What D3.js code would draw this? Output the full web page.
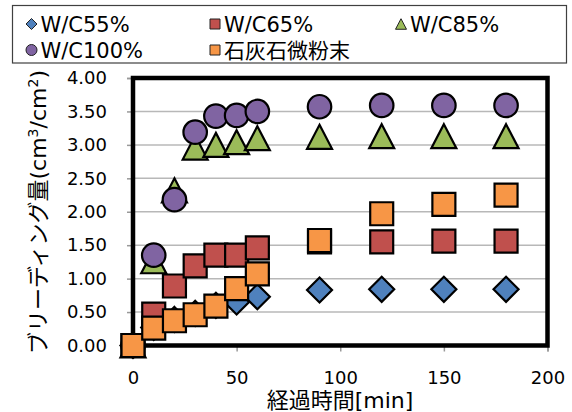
<!DOCTYPE html>
<html>
<head>
<meta charset="utf-8">
<script src="https://cdn.jsdelivr.net/npm/d3@7"></script>
<style>
  html, body { margin: 0; padding: 0; background: #fff; }
  svg { display: block; }
  text { font-family: "DejaVu Sans", "Noto Sans CJK JP", sans-serif; fill: #000; }
</style>
</head>
<body>
<svg id="chart" width="572" height="412"></svg>
<script>
// Elapsed time [min]
const times = [0, 10, 20, 30, 40, 50, 60, 90, 120, 150, 180];

// Bleeding amount (cm3/cm2) per mix
const wc55  = [0, 0.27, 0.39, 0.48, 0.60, 0.65, 0.73, 0.83, 0.84, 0.84, 0.84];
const wc65  = [0, 0.47, 0.89, 1.19, 1.35, 1.35, 1.46, 1.55, 1.55, 1.56, 1.56];
const wc85  = [0, 1.26, 2.32, 2.96, 3.00, 3.04, 3.10, 3.12, 3.13, 3.13, 3.13];
const wc100 = [0, 1.35, 2.18, 3.19, 3.43, 3.44, 3.50, 3.57, 3.59, 3.59, 3.59];
const limestone = [0, 0.26, 0.37, 0.46, 0.59, 0.85, 1.07, 1.57, 1.97, 2.11, 2.25];

const seriesNames = ["W/C55%", "W/C65%", "W/C85%", "W/C100%", "石灰石微粉末"];
const seriesValues = [wc55, wc65, wc85, wc100, limestone];
const seriesColors = ["#4F81BD", "#C0504D", "#9BBB59", "#8064A2", "#F79646"];

// Marker shapes sized by their bounding box width w (box-centred, like spreadsheet markers)
const boxDiamond = { draw(ctx, w) { const r = w / 2; ctx.moveTo(0, -r); ctx.lineTo(r, 0); ctx.lineTo(0, r); ctx.lineTo(-r, 0); ctx.closePath(); } };
const boxSquare = { draw(ctx, w) { const r = w / 2; ctx.moveTo(-r, -r); ctx.lineTo(r, -r); ctx.lineTo(r, r); ctx.lineTo(-r, r); ctx.closePath(); } };
const boxTriangle = { draw(ctx, w) { const r = w / 2, h = w * 0.48; ctx.moveTo(0, -h); ctx.lineTo(r, h); ctx.lineTo(-r, h); ctx.closePath(); } };
const boxCircle = { draw(ctx, w) { const r = w / 2; ctx.moveTo(r, 0); ctx.arc(0, 0, r, 0, 2 * Math.PI); } };
const seriesSymbols = [boxDiamond, boxSquare, boxTriangle, boxCircle, boxSquare];

const yTicks = [0, 0.5, 1, 1.5, 2, 2.5, 3, 3.5, 4];
const xTicks = [0, 50, 100, 150, 200];

const svg = d3.select("#chart");
const plot = { left: 133, right: 547.5, top: 78, bottom: 345.5 };

const x = d3.scaleLinear().domain([0, 200]).range([plot.left, plot.right]);
const y = d3.scaleLinear().domain([0, 4]).range([plot.bottom, plot.top]);

// gridlines
svg.append("g")
  .selectAll("line")
  .data(yTicks.slice(1))
  .join("line")
  .attr("x1", plot.left).attr("x2", plot.right)
  .attr("y1", d => y(d)).attr("y2", d => y(d))
  .attr("stroke", "#b8b8b8").attr("stroke-width", 1.5);

// y axis ticks and labels
const yAxis = svg.append("g")
  .attr("transform", `translate(${plot.left},0)`)
  .call(d3.axisLeft(y).tickValues(yTicks).tickFormat(d3.format(".2f")).tickSize(6).tickPadding(20));
yAxis.select(".domain").attr("stroke", "#999").attr("stroke-width", 1.5);
yAxis.selectAll(".tick line").attr("stroke", "#999").attr("stroke-width", 1.5);
yAxis.selectAll(".tick text")
  .attr("font-size", 18)
  .attr("font-family", "DejaVu Sans, sans-serif")
  .attr("fill", "#000");

// x axis ticks and labels
const xAxis = svg.append("g")
  .attr("transform", `translate(0,${plot.bottom})`)
  .call(d3.axisBottom(x).tickValues(xTicks).tickFormat(d3.format("d")).tickSize(6).tickPadding(20));
xAxis.select(".domain").attr("stroke", "#999").attr("stroke-width", 1.5);
xAxis.selectAll(".tick line").attr("stroke", "#999").attr("stroke-width", 1.5);
xAxis.selectAll(".tick text")
  .attr("font-size", 18)
  .attr("font-family", "DejaVu Sans, sans-serif")
  .attr("fill", "#000");

// heavy plot frame
svg.append("rect")
  .attr("x", plot.left).attr("y", plot.top)
  .attr("width", plot.right - plot.left).attr("height", plot.bottom - plot.top)
  .attr("fill", "none").attr("stroke", "#000").attr("stroke-width", 4.5);

// markers, drawn series by series so later series sit on top
const sizes = [25, 23, 25, 23.5, 23];
seriesValues.forEach((vals, si) => {
  svg.append("g")
    .selectAll("path")
    .data(times.map((t, i) => ({ t, v: vals[i] })))
    .join("path")
    .attr("transform", d => `translate(${x(d.t)},${y(d.v)})`)
    .attr("d", d3.symbol().type(seriesSymbols[si]).size(sizes[si]))
    .attr("fill", seriesColors[si])
    .attr("stroke", "#000")
    .attr("stroke-width", 2.2)
    .attr("stroke-linejoin", "miter");
});

// axis titles
svg.append("text")
  .attr("x", 340).attr("y", 408)
  .attr("text-anchor", "middle")
  .attr("font-size", 22)
  .text("経過時間[min]");

const yTitle = svg.append("text")
  .attr("transform", "translate(46,212) rotate(-90)")
  .attr("text-anchor", "middle")
  .attr("font-size", 22);
yTitle.append("tspan").text("ブリーディング量(cm");
yTitle.append("tspan").attr("font-size", 14).attr("dy", -8).text("3");
yTitle.append("tspan").attr("dy", 8).text("/cm");
yTitle.append("tspan").attr("font-size", 14).attr("dy", -8).text("2");
yTitle.append("tspan").attr("dy", 8).text(")");

// legend
const legend = svg.append("g");
legend.append("rect")
  .attr("x", 12.5).attr("y", 5.5).attr("width", 554).attr("height", 57.5)
  .attr("fill", "#fff").attr("stroke", "#404040").attr("stroke-width", 1.2);

const legendPos = [
  { mx: 31.5, ty: 24 }, { mx: 215, ty: 24 }, { mx: 401, ty: 24 },
  { mx: 31.5, ty: 50 }, { mx: 215, ty: 50 }
];
const legendSizes = [11, 10, 11, 11, 10];
seriesNames.forEach((name, si) => {
  const p = legendPos[si];
  legend.append("path")
    .attr("transform", `translate(${p.mx},${p.ty})`)
    .attr("d", d3.symbol().type(seriesSymbols[si]).size(legendSizes[si]))
    .attr("fill", seriesColors[si])
    .attr("stroke", "#222")
    .attr("stroke-width", 1);
  legend.append("text")
    .attr("x", p.mx + 9).attr("y", p.ty)
    .attr("dy", "0.36em")
    .attr("font-size", 21)
    .text(name);
});
</script>
</body>
</html>
